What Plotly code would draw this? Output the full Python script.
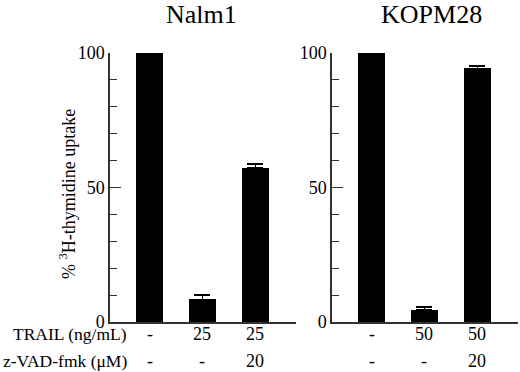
import plotly.graph_objects as go

W, H = 520, 372

panel_titles = ["Nalm1", "KOPM28"]
categories = [0, 1, 2]
nalm1_values = [100, 8.4, 57.2]
nalm1_errors = [1.6, 1.7, 1.5]
kopm28_values = [100, 4.6, 94.3]
kopm28_errors = [1.9, 0.9, 0.8]
trail_labels_nalm1 = ["-", "25", "25"]
zvad_labels_nalm1 = ["-", "-", "20"]
trail_labels_kopm28 = ["-", "50", "50"]
zvad_labels_kopm28 = ["-", "-", "20"]
row_labels = ["TRAIL (ng/mL)", "z-VAD-fmk (\u03bcM)"]
y_ticks = [0, 50, 100]
y_title = "% <sup>3</sup>H-thymidine uptake"

FONT = "Liberation Serif, DejaVu Serif"


def px(x):
    return x / W


def py(y):
    return 1 - y / H


fig = go.Figure()
for vals, errs, xa, ya in [(nalm1_values, nalm1_errors, "x", "y"),
                           (kopm28_values, kopm28_errors, "x2", "y2")]:
    fig.add_trace(go.Bar(
        x=categories, y=vals, width=0.5, xaxis=xa, yaxis=ya,
        marker=dict(color="black", line=dict(width=0)),
        error_y=dict(type="data", array=errs, arrayminus=[0] * len(errs),
                     color="black", thickness=1.5, width=8),
        cliponaxis=False, showlegend=False, hoverinfo="skip"))

ydom = [py(322), py(53)]
axis_common = dict(range=[-0.75, 2.77], showticklabels=False, ticks="",
                   showline=True, linecolor="#333", linewidth=1.5,
                   showgrid=False, zeroline=False, fixedrange=True)
yaxis_common = dict(range=[0, 100], tickvals=y_ticks, ticks="inside",
                    ticklen=11, tickwidth=1.3, tickcolor="#333",
                    showline=True, linecolor="#333", linewidth=1.5,
                    showgrid=False, zeroline=False, fixedrange=True,
                    minor=dict(dtick=10, ticks="inside", ticklen=7,
                               tickwidth=1.3, tickcolor="#333"),
                    tickfont=dict(family=FONT, size=18, color="black"),
                    domain=ydom)

fig.update_layout(
    width=W, height=H, margin=dict(l=0, r=0, t=0, b=0, autoexpand=False),
    paper_bgcolor="white", plot_bgcolor="white",
    font=dict(family=FONT, color="black"),
    xaxis=dict(domain=[px(110), px(296)], anchor="y", **axis_common),
    xaxis2=dict(domain=[px(332), px(518)], anchor="y2", **axis_common),
    yaxis=dict(anchor="x", **yaxis_common),
    yaxis2=dict(anchor="x2", **yaxis_common),
    bargap=0,
)

ann = []
# panel titles
for t, xc in zip(panel_titles, [201, 431]):
    ann.append(dict(text=t, x=px(xc), y=py(15), xref="paper", yref="paper",
                    xanchor="center", yanchor="middle", showarrow=False,
                    font=dict(family=FONT, size=26, color="black")))
# y-axis title
ann.append(dict(text=y_title, x=px(67), y=py(194), xref="paper", yref="paper",
                xanchor="center", yanchor="middle", textangle=-90, showarrow=False,
                font=dict(family=FONT, size=18, color="black")))
# row labels
row_y = [py(334), py(361)]
for lbl, ry in zip(row_labels, row_y):
    ann.append(dict(text=lbl, x=px(129), y=ry, xref="paper", yref="paper",
                    xanchor="right", yanchor="middle", showarrow=False,
                    font=dict(family=FONT, size=17.5, color="black")))
for xref, trail, zvad in [("x", trail_labels_nalm1, zvad_labels_nalm1),
                          ("x2", trail_labels_kopm28, zvad_labels_kopm28)]:
    for c, tl, zl in zip(categories, trail, zvad):
        for txt, ry in [(tl, row_y[0]), (zl, row_y[1])]:
            ann.append(dict(text=txt, x=c, y=ry, xref=xref, yref="paper",
                            xanchor="center", yanchor="middle", showarrow=False,
                            font=dict(family=FONT, size=18, color="black")))
fig.update_layout(annotations=ann)

fig.write_html("out.html", config={"displayModeBar": False},
               post_script="document.body.style.margin='0px';")
